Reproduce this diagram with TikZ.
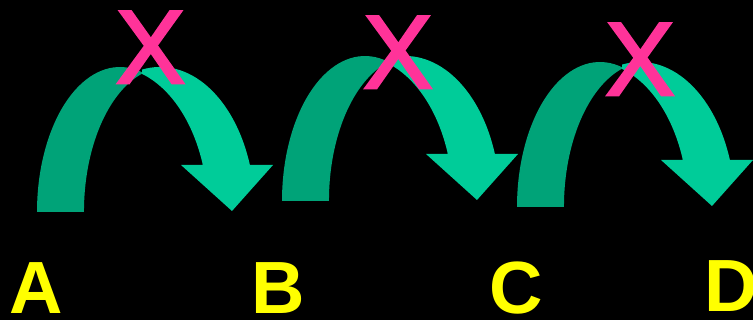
\documentclass[tikz,border=0pt]{standalone}
\usepackage{fontspec}
\setmainfont{Liberation Sans}
\newfontfamily\crossfont[FakeBold=2.5]{Liberation Sans}
\usepackage{xcolor}
\definecolor{arcdark}{RGB}{0,163,120}
\definecolor{arclight}{RGB}{0,204,153}
\definecolor{crosspink}{RGB}{255,51,153}
\definecolor{letteryellow}{RGB}{255,255,0}

\begin{document}
\begin{tikzpicture}[x=1pt,y=1pt,
  backarc/.style={fill=arcdark},
  frontarc/.style={fill=arclight},
  cross/.style={text=crosspink,inner sep=0pt,anchor=base,font=\fontsize{104}{110}\crossfont},
  letter/.style={text=letteryellow,inner sep=0pt,anchor=base,font=\fontsize{74}{78}\selectfont\bfseries}]
  % 背景
  \useasboundingbox (0,0) rectangle (753,320);
  \fill[black] (0,0) rectangle (753,320);
  % 三个弯箭头（同样的椭圆，平移）
  \foreach \dx/\dy in {0/0,245/11,480/5}{
    \begin{scope}[shift={(\dx,\dy)}]
      % 后段（深色）
      \fill[backarc] (37,108) arc[start angle=180,end angle=74.6,x radius=83,y radius=145]
        -- (142,246.3) arc[start angle=107.5,end angle=180,x radius=83,y radius=145] -- cycle;
      % 前段（浅色）和箭头
      \fill[frontarc] (142,246.1) arc[start angle=72.2,end angle=18.9,x radius=95,y radius=145]
        -- (181,155) -- (232,109) -- (273,155) -- (249.9,155)
        arc[start angle=18.9,end angle=100.9,x radius=95,y radius=145] -- cycle;
    \end{scope}
  }
  % 叉号
  \node[cross] (cross1) at (150.5,237) {X};
  \node[cross] (cross2) at (398,232) {X};
  \node[cross] (cross3) at (640,225) {X};
  % 字母
  \node[letter] (ptA) at (36.5,6) {A};
  \node[letter] (ptB) at (278.5,6) {B};
  \node[letter] (ptC) at (516,6) {C};
  \node[letter] (ptD) at (731,8) {D};
\end{tikzpicture}
\end{document}
